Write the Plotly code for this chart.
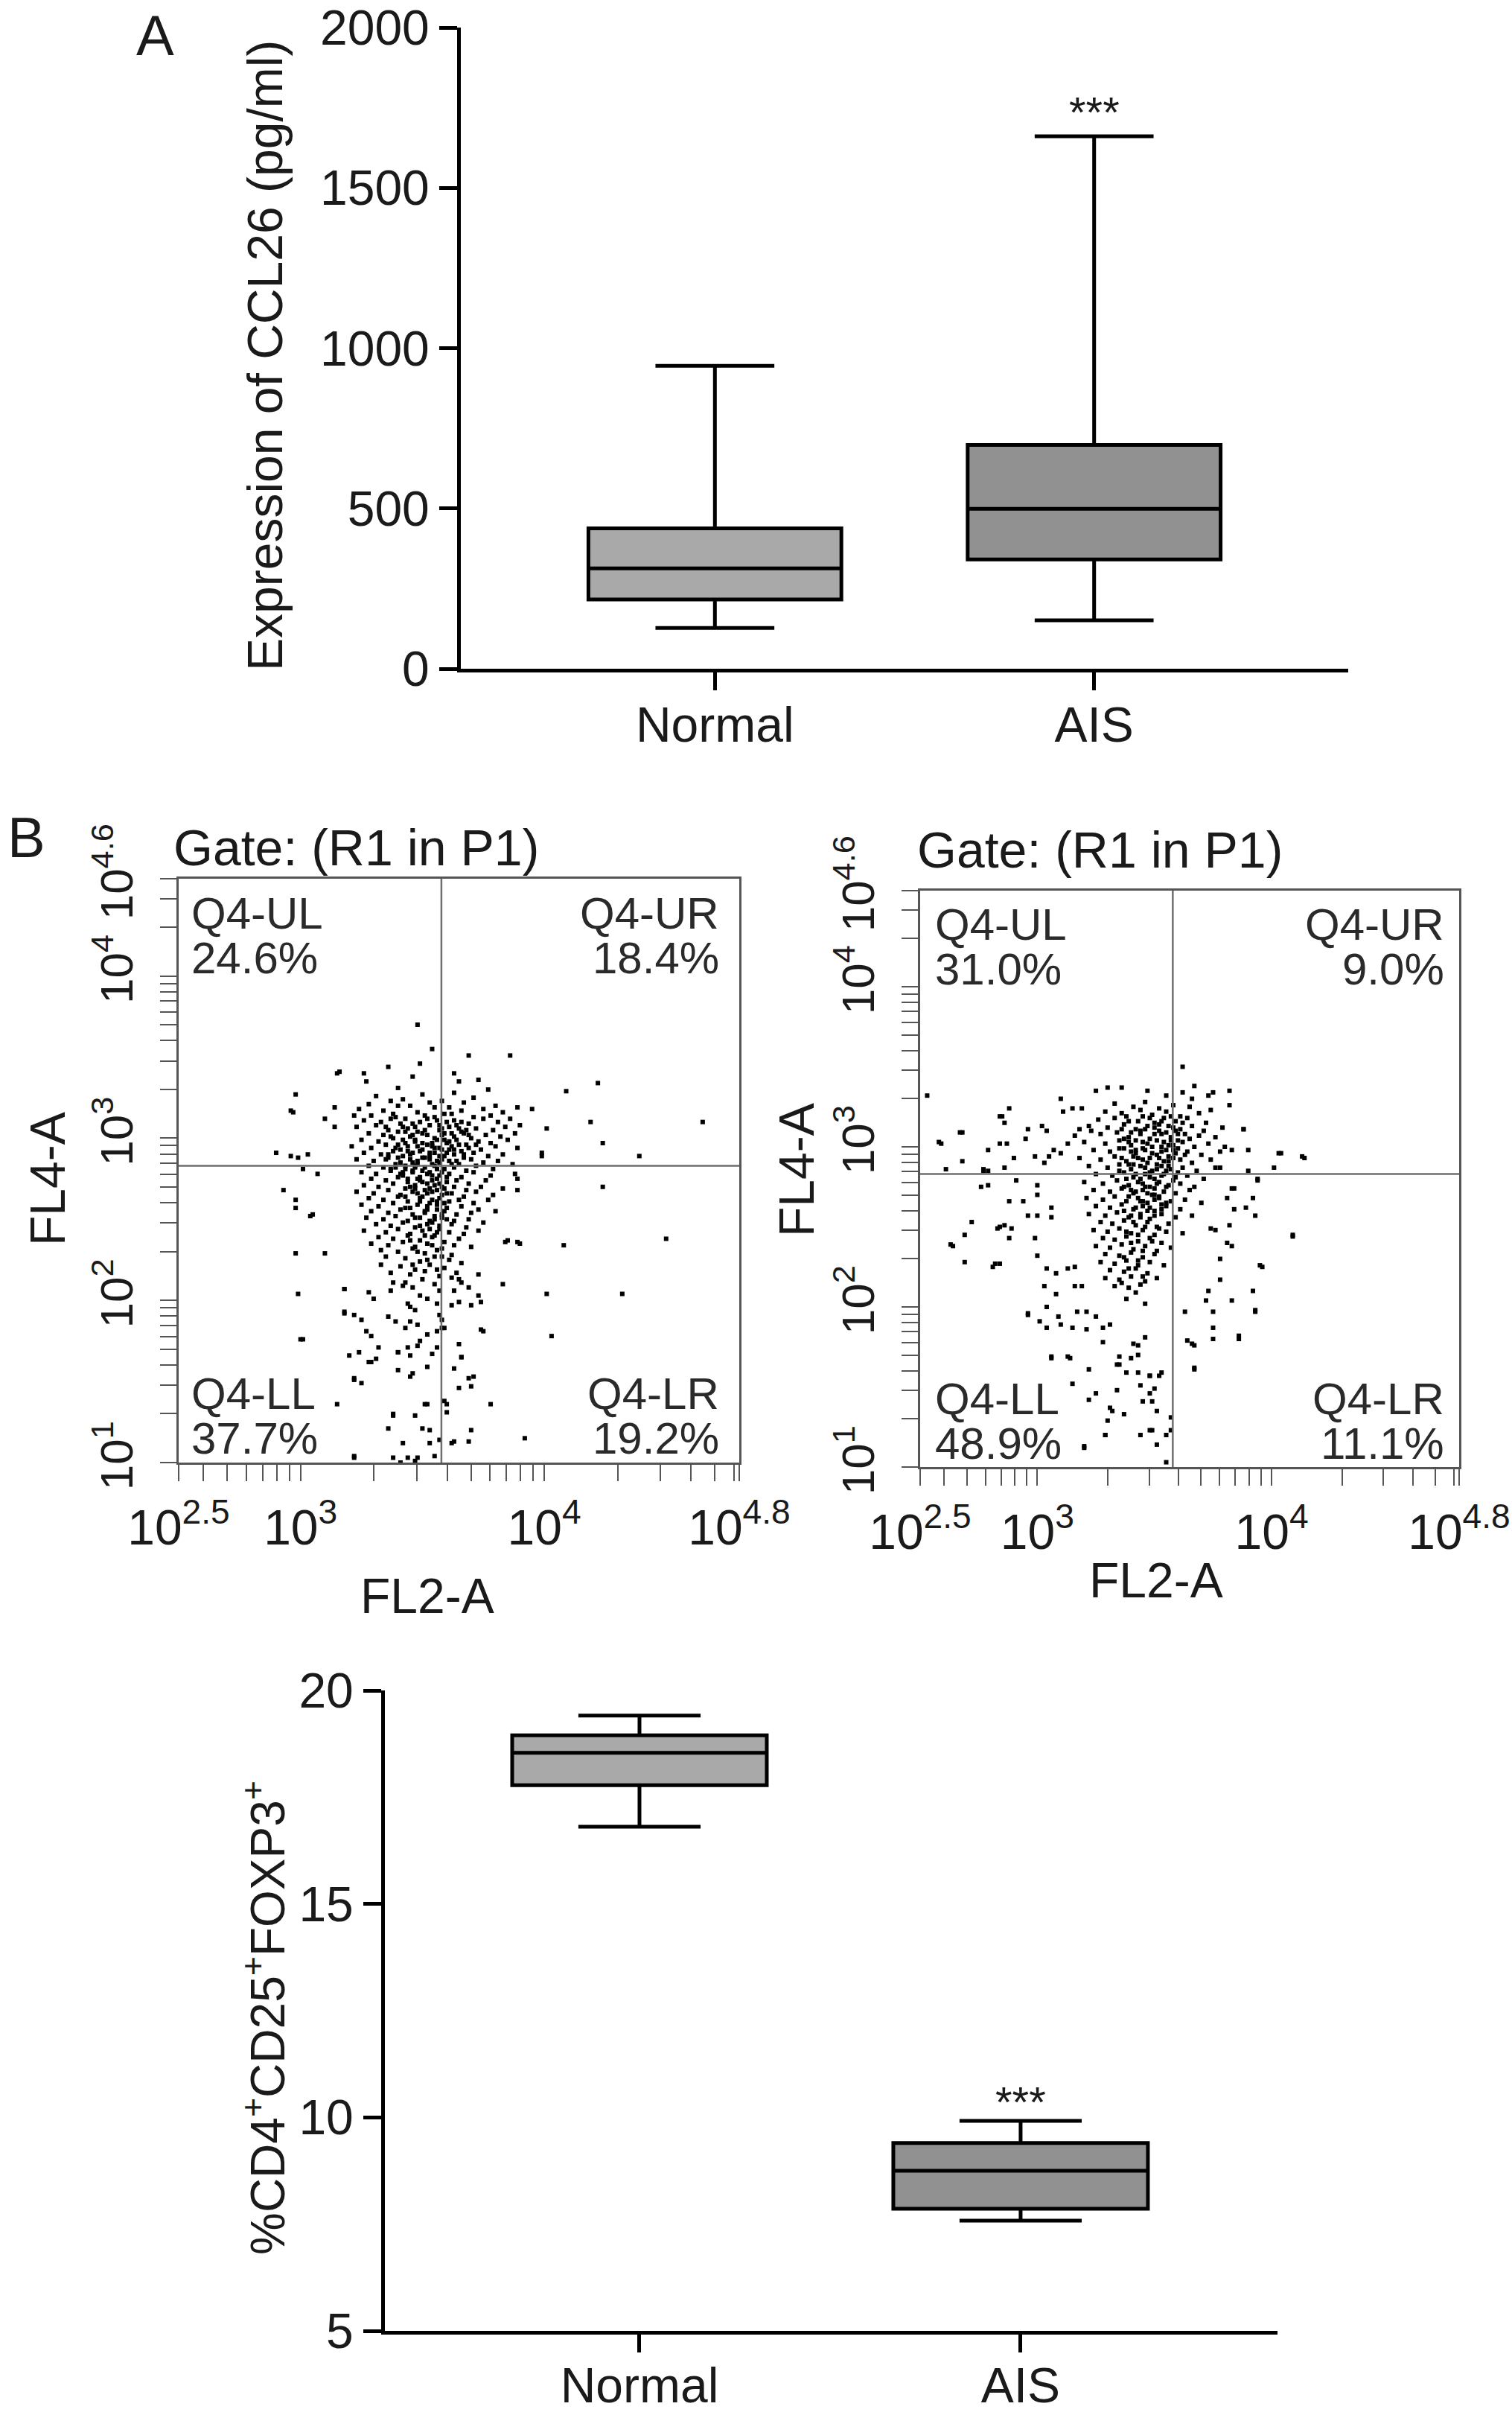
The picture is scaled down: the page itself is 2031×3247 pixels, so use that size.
import plotly.graph_objects as go

## Data
# Panel A: CCL26 serum levels (box-and-whisker, min/max whiskers)
ccl26_groups = ['Normal', 'AIS']
ccl26_min = [127, 151]
ccl26_q1 = [216, 341]
ccl26_median = [313, 499]
ccl26_q3 = [438, 698]
ccl26_max = [945, 1661]

# Panel B bottom: % CD4+CD25+FOXP3+ Treg cells
treg_groups = ['Normal', 'AIS']
treg_min = [16.81, 7.58]
treg_q1 = [17.78, 7.86]
treg_median = [18.54, 8.75]
treg_q3 = [18.95, 9.40]
treg_max = [19.41, 9.92]

# flow cytometry quadrant gate (log10 units) and quadrant percentages
gate_fl2_log = 3.578
gate_fl4_log = 2.83
quad_names = ['Q4-UL', 'Q4-UR', 'Q4-LL', 'Q4-LR']
normal_quad_pct = [24.6, 18.4, 37.7, 19.2]
ais_quad_pct = [31.0, 9.0, 48.9, 11.1]

# events, (log10 FL2-A, log10 FL4-A)
normal_events = [
    (3.48,3.70),(3.86,3.51),(3.69,3.51),(4.22,3.34),(4.09,3.29),(3.16,3.41),(2.98,3.27),(2.97,3.16),
    (4.19,3.10),(4.65,3.10),(4.24,2.97),(4.39,2.89),(3.99,2.89),(4.01,3.06),(3.95,3.18),(2.90,2.91),
    (2.93,2.68),(2.98,2.62),(3.05,2.53),(2.98,2.29),(3.10,2.29),(4.08,2.34),(4.50,2.38),(4.24,2.70),
    (4.32,2.04),(4.01,2.04),(4.03,1.78),(2.99,2.04),(3.00,1.76),(3.18,2.07),(3.18,1.92),(3.22,1.52),
    (3.28,1.62),(3.15,1.36),(3.22,1.03),(3.52,1.36),(3.78,1.36),(3.92,1.15),(3.69,1.13),(3.63,1.13),
    (3.38,1.29),(3.38,1.03),(3.44,1.03),(3.48,1.03),(3.53,1.20),(3.60,1.36),(3.69,1.52),(3.75,1.81),
    (3.66,1.65),(3.46,1.55),(3.44,1.71),(3.40,1.68),(3.32,1.71),(3.27,1.81),(3.58,1.83),(3.56,1.71),
    (3.62,1.97),(3.65,2.13),(3.83,2.10),(3.73,2.16),(3.89,2.36),(3.84,2.36),(3.89,2.68),(3.89,2.75),
    (3.54,3.55),(3.49,3.46),(3.36,3.44),(3.15,3.40),(3.26,3.40),(3.63,3.40),(3.73,3.36),(3.65,3.35),
    (3.46,3.38),(3.27,3.35),(3.40,3.31),(3.77,3.30),(2.96,3.17),(3.14,3.19),(3.22,3.14),(3.10,3.12),
    (3.14,3.07),(3.89,3.19),(3.99,2.91),(2.96,2.89),(2.99,2.88),(3.03,2.90),(3.01,2.81),(3.07,2.78),
    (2.98,2.57),(3.04,2.52),(3.90,2.35),(3.85,2.37),(3.01,1.76),(3.70,1.20),(3.62,1.12),(3.70,1.47),
    (3.71,1.53),(3.65,1.46),(3.63,1.58),(3.66,1.65),(3.65,1.73),(3.60,1.31),(3.59,1.38),(3.57,1.14),
    (3.55,1.04),(3.41,1.00),(3.47,1.01),(3.22,1.04),(3.36,1.21),(3.50,1.21),(3.38,1.30),(3.47,1.29),
    (3.42,1.12),(3.53,1.12),(3.51,1.36),(3.22,1.51),(3.25,1.49),(3.45,1.53),(3.40,1.57),(3.52,1.59),
    (3.54,1.67),(3.45,1.66),(3.40,1.68),(3.31,1.64),(3.29,1.62),(3.20,1.66),(3.24,1.68),(3.29,1.78),
    (3.48,1.72),(3.49,1.75),(3.52,1.79),(3.56,1.81),(3.43,1.83),(3.48,1.85),(3.45,1.87),(3.39,1.87),
    (3.25,1.88),(3.22,1.91),(3.18,1.93),(3.36,1.90),(3.47,1.94),(3.45,1.96),(3.44,1.98),(3.56,1.98),
    (3.49,2.03),(3.30,2.01),(3.37,2.06),(3.18,2.07),(3.28,2.05),(3.42,2.09),(3.46,2.08),(3.38,2.11),
    (3.55,2.10),(3.62,2.14),(3.66,2.11),(3.69,2.08),(3.63,2.06),(3.73,2.03),(3.65,1.99),(3.74,1.99),
    (3.70,1.97),(3.57,1.91),(3.58,1.88),(3.59,1.83),(3.74,1.82),
    (3.31,3.26),(3.42,3.24),(3.50,3.27),(3.58,3.23),(3.63,3.28),(3.71,3.25),
    (3.28,3.21),(3.37,3.23),(3.45,3.20),(3.53,3.22),(3.61,3.19),(3.67,3.22),(3.80,3.20),
    (3.24,3.18),(3.34,3.17),(3.40,3.20),(3.48,3.16),(3.55,3.19),(3.59,3.15),(3.66,3.17),(3.75,3.18),(3.83,3.16),
    (3.29,3.14),(3.38,3.15),(3.43,3.12),(3.51,3.14),(3.56,3.11),(3.62,3.15),(3.71,3.13),(3.78,3.14),(3.86,3.12),
    (3.26,3.11),(3.33,3.10),(3.39,3.13),(3.46,3.09),(3.52,3.12),(3.57,3.08),(3.63,3.11),(3.69,3.09),(3.75,3.12),(3.81,3.10),(3.90,3.08),
    (3.23,3.07),(3.31,3.08),(3.36,3.05),(3.42,3.07),(3.48,3.04),(3.53,3.08),(3.57,3.05),(3.61,3.07),(3.66,3.04),(3.72,3.06),(3.79,3.05),(3.84,3.07),
    (3.28,3.03),(3.34,3.02),(3.40,3.04),(3.45,3.01),(3.50,3.03),(3.55,3.00),(3.59,3.03),(3.63,3.01),(3.67,3.03),(3.70,3.00),(3.76,3.02),(3.82,3.01),(3.88,3.03),
    (3.25,2.99),(3.32,2.98),(3.38,3.00),(3.43,2.97),(3.47,2.99),(3.52,2.96),(3.56,2.99),(3.60,2.97),(3.64,2.99),(3.68,2.96),(3.73,2.98),(3.78,2.97),(3.85,2.99),
    (3.21,2.95),(3.29,2.94),(3.35,2.96),(3.41,2.93),(3.44,2.95),(3.49,2.92),(3.54,2.95),(3.58,2.93),(3.62,2.95),(3.66,2.92),(3.69,2.94),(3.74,2.93),(3.80,2.95),(3.89,2.94),
    (3.26,2.91),(3.33,2.90),(3.38,2.92),(3.42,2.89),(3.46,2.91),(3.51,2.88),(3.55,2.91),(3.59,2.89),(3.63,2.90),(3.67,2.88),(3.71,2.91),(3.77,2.89),(3.83,2.90),
    (3.23,2.87),(3.30,2.86),(3.36,2.88),(3.41,2.85),(3.45,2.87),(3.48,2.84),(3.53,2.87),(3.57,2.85),(3.61,2.86),(3.65,2.84),(3.70,2.87),(3.75,2.85),(3.81,2.86),(3.87,2.84),
    (3.28,2.83),(3.34,2.82),(3.39,2.84),(3.43,2.81),(3.47,2.83),(3.50,2.80),(3.55,2.83),(3.59,2.81),(3.63,2.82),(3.68,2.80),(3.72,2.83),(3.79,2.81),
    (3.25,2.79),(3.31,2.78),(3.37,2.80),(3.42,2.77),(3.46,2.79),(3.49,2.76),(3.53,2.79),(3.57,2.77),(3.61,2.78),(3.66,2.76),(3.71,2.79),(3.78,2.77),(3.88,2.78),
    (3.29,2.75),(3.35,2.74),(3.40,2.76),(3.44,2.73),(3.48,2.75),(3.52,2.72),(3.56,2.75),(3.60,2.73),(3.64,2.74),(3.69,2.72),(3.76,2.74),
    (3.26,2.71),(3.32,2.70),(3.38,2.72),(3.43,2.69),(3.47,2.71),(3.51,2.68),(3.55,2.71),(3.59,2.69),(3.63,2.70),(3.68,2.68),(3.74,2.70),(3.83,2.69),
    (3.23,2.67),(3.30,2.66),(3.36,2.68),(3.41,2.65),(3.46,2.67),(3.50,2.64),(3.54,2.67),(3.58,2.65),(3.62,2.66),(3.67,2.64),(3.72,2.67),(3.79,2.65),
    (3.28,2.63),(3.34,2.62),(3.40,2.64),(3.44,2.61),(3.49,2.63),(3.53,2.60),(3.57,2.63),(3.61,2.61),(3.65,2.62),(3.71,2.60),(3.77,2.62),
    (3.25,2.59),(3.32,2.58),(3.38,2.60),(3.43,2.57),(3.48,2.59),(3.52,2.56),(3.56,2.59),(3.60,2.57),(3.66,2.58),(3.73,2.56),
    (3.29,2.55),(3.36,2.54),(3.41,2.56),(3.46,2.53),(3.51,2.55),(3.55,2.52),(3.59,2.55),(3.64,2.53),(3.70,2.54),(3.80,2.55),
    (3.27,2.51),(3.34,2.50),(3.39,2.52),(3.44,2.49),(3.49,2.51),(3.54,2.48),(3.58,2.51),(3.63,2.49),(3.69,2.50),(3.75,2.48),
    (3.31,2.47),(3.37,2.46),(3.42,2.48),(3.47,2.45),(3.52,2.47),(3.57,2.44),(3.62,2.47),(3.68,2.45),
    (3.26,2.43),(3.35,2.42),(3.40,2.44),(3.45,2.41),(3.50,2.43),(3.55,2.40),(3.61,2.42),(3.67,2.41),(3.73,2.43),
    (3.32,2.39),(3.38,2.38),(3.44,2.40),(3.49,2.37),(3.54,2.39),(3.59,2.36),(3.65,2.38),
    (3.29,2.35),(3.36,2.34),(3.42,2.36),(3.47,2.33),(3.52,2.35),(3.58,2.32),(3.63,2.34),(3.70,2.33),
    (3.33,2.31),(3.40,2.30),(3.46,2.32),(3.51,2.29),(3.56,2.31),(3.62,2.28),
    (3.35,2.27),(3.43,2.26),(3.49,2.24),(3.55,2.27),(3.61,2.25),(3.66,2.23),
    (3.33,2.22),(3.41,2.21),(3.47,2.19),(3.53,2.22),(3.59,2.20),
    (3.37,2.17),(3.45,2.16),(3.51,2.18),(3.57,2.15),(3.64,2.17),
    (3.44,3.06),(3.51,3.05),(3.58,3.02),(3.47,2.98),(3.54,2.97),(3.61,2.98),(3.40,2.96),(3.57,2.94),
    (3.50,2.93),(3.45,2.90),(3.60,2.91),(3.53,2.89),(3.48,2.86),(3.56,2.86),(3.43,2.83),(3.62,2.84),
    (3.51,2.82),(3.46,2.80),(3.58,2.79),(3.54,2.77),(3.41,2.78),(3.49,2.74),(3.57,2.72),(3.45,2.70),
    (3.53,2.69),(3.60,2.66),(3.48,2.66),(3.56,2.61),(3.52,2.58),(3.58,2.53),(3.55,2.50),(3.57,2.46),
    (3.53,2.44),(3.65,3.06),(3.69,3.02),(3.72,2.96),(3.63,2.93),(3.66,3.10),(3.36,2.90),(3.39,2.82),
    (3.37,3.12),(3.41,3.09),(3.49,3.10),(3.55,3.13),(3.60,3.10),(3.64,3.08),(3.35,3.07),(3.43,3.04),
    (3.47,3.07),(3.52,3.02),(3.58,3.06),(3.62,3.03),(3.68,3.05),(3.37,3.01),(3.42,2.99),(3.46,3.02),
    (3.50,2.97),(3.55,2.94),(3.59,2.99),(3.65,2.96),(3.39,2.94),(3.44,2.92),(3.48,2.95),(3.53,2.91),
    (3.57,2.89),(3.61,2.93),(3.67,2.90),(3.35,2.87),(3.40,2.88),(3.46,2.85),(3.50,2.88),(3.54,2.84),
    (3.58,2.87),(3.64,2.86),(3.37,2.81),(3.42,2.79),(3.47,2.82),(3.52,2.78),(3.56,2.81),(3.60,2.76),
    (3.44,2.75),(3.50,2.73),(3.54,2.74),(3.58,2.70),(3.47,2.69),(3.52,2.66),(3.56,2.68),(3.43,2.64),
    (3.49,2.61),(3.54,2.62),(3.59,2.60),(3.45,2.57),(3.51,2.54),(3.56,2.56),(3.47,2.51),(3.53,2.49),
    (3.60,2.50),(3.49,2.46),(3.56,2.42),(3.51,2.40),(3.45,2.37),(3.54,2.34),(3.48,2.30),(3.58,2.27),
    (3.52,2.25),(3.46,2.22),(3.56,2.19),(3.50,2.13),(3.43,2.11),(3.57,2.06),(3.52,2.01),
]

ais_events = [
    (3.62,3.50),(2.53,3.32),(2.58,3.03),(2.61,2.86),(2.67,3.09),(2.77,2.86),(2.85,3.19),(2.88,3.24),
    (2.69,2.28),(2.63,2.39),(2.84,2.50),(2.82,2.27),(2.96,1.95),(3.06,1.69),(3.13,1.69),(3.20,1.13),
    (3.29,1.20),(3.31,1.37),(3.37,1.33),(3.34,1.64),(3.35,1.69),(3.43,1.59),(3.48,1.57),(3.53,1.59),
    (3.49,1.23),(3.55,1.20),(3.55,1.03),(3.45,1.41),(3.50,1.49),(4.03,2.96),(4.13,2.94),(4.09,2.45),
    (3.95,2.26),(3.93,1.98),(3.86,1.82),(3.66,1.77),(3.67,1.62),(3.82,3.35),(3.75,3.34),(3.67,3.38),
    (3.88,3.11),(3.94,2.80),(3.89,2.62),(3.81,2.68),
    (3.25,3.35),(3.30,3.37),(3.36,3.37),(3.10,3.30),(3.47,3.35),(3.55,3.32),(3.62,3.34),(3.66,3.30),
    (3.73,3.32),(3.82,3.26),(2.84,3.19),(2.86,3.15),(2.68,3.09),(2.59,3.02),(2.68,2.91),(2.79,2.98),
    (2.84,3.02),(2.87,3.02),(2.90,2.93),(2.96,3.11),(3.02,3.13),(3.04,3.10),(2.95,3.05),(2.99,2.94),
    (3.03,2.90),(3.05,2.94),(3.07,2.98),(3.11,3.22),(3.15,3.24),(3.19,3.24),(3.13,3.02),(3.16,3.07),
    (3.10,2.96),(3.18,3.11),(3.23,3.10),(2.77,2.85),(2.79,2.85),(2.86,2.87),(2.76,2.75),(2.79,2.76),
    (2.91,2.79),(3.00,2.76),(3.00,2.70),(2.88,2.66),(2.94,2.66),(2.96,2.57),(3.00,2.57),(3.06,2.62),
    (3.06,2.56),(2.72,2.53),(2.83,2.49),(2.86,2.51),(2.89,2.49),(2.69,2.45),(2.88,2.43),(2.99,2.43),
    (2.64,2.38),(3.00,2.32),(2.81,2.25),(2.84,2.27),(3.04,2.24),(3.08,2.21),(3.13,2.24),(3.16,2.25),
    (3.03,2.13),(3.08,2.08),(3.16,2.13),(3.19,2.13),(3.04,2.00),(3.09,1.94),(2.96,1.96),(3.01,1.91),
    (3.04,1.87),(3.10,1.89),(3.15,1.87),(3.21,1.86),(3.28,1.87),(3.31,1.89),(3.17,1.97),(3.21,1.97),
    (3.25,1.94),(3.28,1.78),(3.06,1.68),(3.14,1.68),(3.22,1.61),(3.15,1.52),(3.22,1.42),(3.25,1.46),
    (3.34,1.48),(3.32,1.35),(3.30,1.29),(3.29,1.20),(3.20,1.12),(3.35,1.64),(3.38,1.59),(3.40,1.68),
    (3.43,1.70),(3.44,1.51),(3.48,1.57),(3.52,1.57),(3.48,1.46),(3.49,1.41),(3.51,1.35),(3.44,1.20),
    (3.48,1.23),(3.51,1.14),(3.57,1.23),(3.57,1.31),(3.46,1.81),(3.43,1.76),(3.41,1.77),(3.67,1.61),
    (3.64,1.79),(3.67,1.76),(3.75,1.87),(3.75,1.80),(3.86,1.80),(3.63,1.97),(3.75,1.97),(3.93,1.97),
    (3.72,2.04),(3.83,2.04),(3.92,2.10),(3.73,2.10),(3.78,2.17),(3.78,2.30),(3.96,2.25),(3.83,2.38),
    (3.81,2.40),(4.09,2.44),(3.93,2.57),(3.92,2.68),(3.94,2.79),(3.84,2.61),(3.82,2.51),(3.76,2.48),
    (3.74,2.49),(3.83,2.74),(3.84,2.74),(3.88,3.11),(4.01,2.87),(4.04,2.96),(4.14,2.93),(3.90,2.98),
    (3.83,2.98),(3.80,3.00),(3.90,2.85),(3.78,2.87),
    (3.33,3.27),(3.41,3.25),(3.46,3.28),(3.52,3.24),(3.58,3.26),(3.65,3.25),
    (3.29,3.22),(3.36,3.21),(3.44,3.23),(3.49,3.20),(3.55,3.22),(3.61,3.19),(3.69,3.21),(3.74,3.23),
    (3.26,3.17),(3.33,3.18),(3.39,3.16),(3.45,3.19),(3.50,3.15),(3.54,3.18),(3.59,3.16),(3.64,3.18),(3.72,3.15),
    (3.22,3.13),(3.30,3.12),(3.37,3.14),(3.42,3.11),(3.47,3.13),(3.52,3.10),(3.56,3.13),(3.61,3.11),(3.66,3.13),(3.71,3.10),(3.79,3.12),
    (3.27,3.08),(3.34,3.09),(3.39,3.06),(3.44,3.08),(3.48,3.05),(3.53,3.08),(3.57,3.06),(3.60,3.08),(3.65,3.05),(3.69,3.07),(3.76,3.06),
    (3.20,3.03),(3.29,3.02),(3.35,3.04),(3.40,3.01),(3.45,3.03),(3.49,3.00),(3.54,3.03),(3.58,3.01),(3.62,3.03),(3.67,3.00),(3.73,3.02),
    (3.24,2.98),(3.31,2.97),(3.37,2.99),(3.42,2.96),(3.46,2.98),(3.51,2.95),(3.55,2.98),(3.59,2.96),(3.64,2.97),(3.70,2.95),(3.78,2.97),
    (3.18,2.93),(3.27,2.92),(3.33,2.94),(3.38,2.91),(3.43,2.93),(3.47,2.90),(3.52,2.93),(3.56,2.91),(3.61,2.92),(3.66,2.90),(3.74,2.92),
    (3.22,2.88),(3.30,2.87),(3.35,2.89),(3.40,2.86),(3.44,2.88),(3.49,2.85),(3.53,2.88),(3.57,2.86),(3.62,2.87),(3.68,2.85),(3.76,2.87),
    (3.25,2.83),(3.32,2.82),(3.37,2.84),(3.41,2.81),(3.46,2.83),(3.50,2.80),(3.54,2.83),(3.59,2.81),(3.64,2.82),(3.71,2.80),
    (3.20,2.78),(3.28,2.77),(3.34,2.79),(3.39,2.76),(3.43,2.78),(3.48,2.75),(3.52,2.78),(3.56,2.76),(3.61,2.77),(3.67,2.75),
    (3.24,2.73),(3.31,2.72),(3.36,2.74),(3.41,2.71),(3.45,2.73),(3.50,2.70),(3.54,2.72),(3.59,2.71),(3.65,2.73),
    (3.21,2.68),(3.28,2.67),(3.33,2.69),(3.38,2.66),(3.43,2.68),(3.47,2.65),(3.52,2.68),(3.57,2.66),(3.63,2.67),(3.70,2.65),
    (3.25,2.63),(3.31,2.62),(3.36,2.64),(3.41,2.61),(3.45,2.63),(3.50,2.60),(3.55,2.63),(3.61,2.61),
    (3.22,2.58),(3.29,2.57),(3.34,2.59),(3.39,2.56),(3.44,2.58),(3.48,2.55),(3.53,2.58),(3.59,2.56),(3.66,2.57),
    (3.27,2.53),(3.32,2.52),(3.37,2.54),(3.42,2.51),(3.47,2.53),(3.51,2.50),(3.56,2.52),
    (3.24,2.48),(3.30,2.47),(3.35,2.49),(3.40,2.46),(3.45,2.48),(3.50,2.45),(3.55,2.47),(3.62,2.46),
    (3.28,2.43),(3.33,2.42),(3.38,2.44),(3.43,2.41),(3.48,2.43),(3.53,2.40),
    (3.25,2.38),(3.31,2.37),(3.36,2.39),(3.41,2.36),(3.46,2.38),(3.51,2.35),(3.57,2.37),
    (3.29,2.33),(3.35,2.32),(3.40,2.34),(3.45,2.31),(3.50,2.33),
    (3.27,2.28),(3.33,2.27),(3.38,2.29),(3.43,2.26),(3.48,2.28),(3.54,2.26),
    (3.31,2.23),(3.37,2.22),(3.42,2.24),(3.47,2.21),
    (3.29,2.18),(3.35,2.17),(3.40,2.19),(3.46,2.16),(3.51,2.18),
    (3.33,2.13),(3.39,2.12),(3.44,2.14),
    (3.44,3.10),(3.50,3.08),(3.47,3.02),(3.53,3.00),(3.42,2.98),(3.49,2.96),(3.56,2.94),(3.45,2.92),
    (3.51,2.89),(3.41,2.89),(3.48,2.84),(3.55,2.85),(3.44,2.80),(3.51,2.77),(3.46,2.75),(3.40,2.73),
    (3.49,2.70),(3.44,2.66),(3.53,2.64),(3.47,2.60),(3.40,2.57),(3.57,3.04),(3.60,2.99),(3.39,3.03),
    (3.52,3.14),(3.58,3.12),
    (3.38,3.19),(3.43,3.16),(3.48,3.18),(3.53,3.16),(3.57,3.19),(3.62,3.15),(3.36,3.11),(3.40,3.09),
    (3.46,3.11),(3.50,3.12),(3.55,3.09),(3.59,3.10),(3.63,3.08),(3.37,3.05),(3.42,3.04),(3.51,3.04),
    (3.56,3.01),(3.60,3.04),(3.35,2.99),(3.40,2.97),(3.45,2.99),(3.53,2.97),(3.58,2.98),(3.63,2.95),
    (3.36,2.93),(3.41,2.94),(3.48,2.93),(3.54,2.91),(3.58,2.93),(3.39,2.89),(3.46,2.87),(3.51,2.86),
    (3.56,2.88),(3.60,2.84),(3.35,2.85),(3.42,2.83),(3.48,2.81),(3.53,2.82),(3.58,2.79),(3.38,2.80),
    (3.45,2.77),(3.50,2.74),(3.55,2.75),(3.37,2.75),(3.42,2.72),(3.47,2.71),(3.52,2.69),(3.39,2.69),
    (3.45,2.66),(3.50,2.67),(3.55,2.65),(3.42,2.62),(3.48,2.62),(3.53,2.61),(3.37,2.60),(3.44,2.56),
    (3.50,2.57),(3.41,2.53),(3.46,2.50),(3.52,2.49),(3.38,2.47),(3.43,2.45),(3.49,2.41),(3.40,2.40),
    (3.45,2.35),(3.37,2.31),(3.43,2.29),(3.39,2.24),(3.45,2.19),(3.36,2.15),(3.42,2.09),(3.38,2.05),
    (3.46,2.02),
]

# axis extents of the dot plots (log10)
fl2_range = [2.5, 4.8]
fl4_range = [1, 4.6]

W, H = 2031, 3247
FONT = 'Liberation Sans, Arial, Helvetica, sans-serif'
INK = '#1a1a1a'


def dx(a, b):
    return [a / W, b / W]


def dy(top, bottom):
    return [1 - bottom / H, 1 - top / H]


fig = go.Figure()

## Panel A boxes
box_fill = ['#a9a9a9', '#919191']
for i in range(len(ccl26_groups)):
    fig.add_trace(go.Box(
        x=[i], q1=[ccl26_q1[i]], median=[ccl26_median[i]], q3=[ccl26_q3[i]],
        lowerfence=[ccl26_min[i]], upperfence=[ccl26_max[i]],
        width=0.667, whiskerwidth=0.47, fillcolor=box_fill[i],
        line=dict(color='black', width=5), boxpoints=False,
        xaxis='x', yaxis='y', showlegend=False))

## Panel B dot plots
for k, events in enumerate([normal_events, ais_events]):
    ax = str(k + 2)
    fig.add_trace(go.Scatter(
        x=[10 ** p[0] for p in events], y=[10 ** p[1] for p in events],
        mode='markers', marker=dict(symbol='square', size=6, color='black'),
        xaxis='x' + ax, yaxis='y' + ax, showlegend=False, hoverinfo='skip'))
    # quadrant gate lines
    fig.add_trace(go.Scatter(
        x=[10 ** gate_fl2_log] * 2, y=[10 ** fl4_range[0], 10 ** fl4_range[1]],
        mode='lines', line=dict(color='#6e6e6e', width=2.5),
        xaxis='x' + ax, yaxis='y' + ax, showlegend=False, hoverinfo='skip'))
    fig.add_trace(go.Scatter(
        x=[10 ** fl2_range[0], 10 ** fl2_range[1]], y=[10 ** gate_fl4_log] * 2,
        mode='lines', line=dict(color='#6e6e6e', width=2.5),
        xaxis='x' + ax, yaxis='y' + ax, showlegend=False, hoverinfo='skip'))

## Panel B bottom boxes
for i in range(len(treg_groups)):
    fig.add_trace(go.Box(
        x=[i], q1=[treg_q1[i]], median=[treg_median[i]], q3=[treg_q3[i]],
        lowerfence=[treg_min[i]], upperfence=[treg_max[i]],
        width=0.668, whiskerwidth=0.48, fillcolor=box_fill[i],
        line=dict(color='black', width=5), boxpoints=False,
        xaxis='x4', yaxis='y4', showlegend=False))

box_axis = dict(showline=True, linecolor='black', linewidth=5, ticks='outside',
                ticklen=24, tickwidth=5, tickcolor='black', showgrid=False,
                zeroline=False, automargin=False,
                tickfont=dict(family=FONT, size=66, color=INK))

flow_x_minor = [m * 10 ** e for e in (2, 3, 4) for m in range(2, 10)
                if 10 ** fl2_range[0] < m * 10 ** e < 10 ** fl2_range[1]]
flow_y_minor = [m * 10 ** e for e in (1, 2, 3, 4) for m in range(2, 10)
                if m * 10 ** e < 10 ** fl4_range[1]]
flow_axis = dict(type='log', showline=True, mirror=True, linecolor='#555555',
                 linewidth=2.5, ticks='outside', ticklen=22, tickwidth=2,
                 tickcolor='#555555', showgrid=False, zeroline=False,
                 automargin=False, tickfont=dict(family=FONT, size=66, color=INK))
flow_x = dict(flow_axis, range=fl2_range, ticklabelstandoff=6,
              tickvals=[10 ** 2.5, 1e3, 1e4, 10 ** 4.8],
              ticktext=['10<sup>2.5</sup>', '10<sup>3</sup>', '10<sup>4</sup>', '10<sup>4.8</sup>'],
              minor=dict(tickvals=flow_x_minor, ticks='outside', ticklen=22,
                         tickwidth=2, tickcolor='#555555', showgrid=False))
flow_y = dict(flow_axis, range=fl4_range, tickangle=-90, ticklabelstandoff=12,
              tickfont=dict(family=FONT, size=62, color=INK),
              tickvals=[10, 100, 1e3, 1e4, 10 ** 4.6],
              ticktext=['10<sup>1</sup>', '10<sup>2</sup>', '10<sup>3</sup>', '10<sup>4</sup>', '10<sup>4.6</sup>'],
              minor=dict(tickvals=flow_y_minor, ticks='outside', ticklen=22,
                         tickwidth=2, tickcolor='#555555', showgrid=False))

fig.update_layout(
    template='none',
    width=W, height=H, autosize=False,
    margin=dict(l=0, r=0, t=0, b=0, autoexpand=False),
    paper_bgcolor='white', plot_bgcolor='white',
    font=dict(family=FONT, color=INK),
    xaxis=dict(box_axis, domain=dx(619, 1811), range=[-0.67, 1.67],
               ticklabelstandoff=-10,
               tickvals=list(range(len(ccl26_groups))), ticktext=ccl26_groups),
    yaxis=dict(box_axis, domain=dy(37, 898), range=[0, 2000],
               tickvals=[0, 500, 1000, 1500, 2000]),
    xaxis2=dict(flow_x, domain=dx(240, 993), anchor='y2'),
    yaxis2=dict(flow_y, domain=dy(1180, 1964), anchor='x2'),
    xaxis3=dict(flow_x, domain=dx(1236, 1960), anchor='y3'),
    yaxis3=dict(flow_y, domain=dy(1196, 1970), anchor='x3'),
    xaxis4=dict(box_axis, domain=dx(517, 1716), range=[-0.668, 1.674], anchor='y4',
                ticklabelstandoff=-12,
                tickvals=list(range(len(treg_groups))), ticktext=treg_groups),
    yaxis4=dict(box_axis, domain=dy(2270, 3130), range=[5, 20], anchor='x4',
                tickvals=[5, 10, 15, 20]),
)

ann = []


def text(x, y, s, size, **kw):
    d = dict(x=x / W, y=1 - y / H, xref='paper', yref='paper', text=s,
             xanchor='center', yanchor='middle', showarrow=False,
             font=dict(family=FONT, size=size, color=INK))
    d.update(kw)
    ann.append(d)


text(208, 48, 'A', 76)
text(35, 1124, 'B', 76)
text(356, 478, 'Expression of CCL26 (pg/ml)', 66, textangle=-90)
text(355, 2710, '%CD4<sup>+</sup>CD25<sup>+</sup>FOXP3<sup>+</sup>', 64, textangle=-90)
text(231, 1138, 'Gate: (R1 in P1)', 68, xanchor='left')
text(1230, 1141, 'Gate: (R1 in P1)', 68, xanchor='left')
text(64, 1583, 'FL4-A', 66, textangle=-90)
text(1070, 1571, 'FL4-A', 66, textangle=-90)
text(574, 2143, 'FL2-A', 66)
text(1553, 2122, 'FL2-A', 66)

# significance marks
ann.append(dict(x=1, y=1737, xref='x', yref='y', text='***', showarrow=False,
                font=dict(family=FONT, size=58, color=INK)))
ann.append(dict(x=1, y=10.36, xref='x4', yref='y4', text='***', showarrow=False,
                font=dict(family=FONT, size=58, color=INK)))

# quadrant labels
for k, (pct, xl, xr) in enumerate([(normal_quad_pct, 0.02, 0.967),
                                   (ais_quad_pct, 0.025, 0.975)]):
    ax = str(k + 2)
    spots = [(xl, 0.941, 0.864, 'left'), (xr, 0.941, 0.864, 'right'),
             (xl, 0.118, 0.041, 'left'), (xr, 0.118, 0.041, 'right')]
    for name, val, (qx, y1, y2, side) in zip(quad_names, pct, spots):
        for s, qy in ((name, y1), ('%.1f%%' % val, y2)):
            ann.append(dict(x=qx, y=qy, xref='x' + ax + ' domain', yref='y' + ax + ' domain',
                            text=s, showarrow=False, xanchor=side, yanchor='middle',
                            font=dict(family=FONT, size=60, color='#2a2a2a')))

fig.update_layout(annotations=ann)

# the page's default body margin would shift the fixed-size figure
fig.write_html("out.html", config={'displayModeBar': False},
               post_script="document.body.style.margin='0';")
